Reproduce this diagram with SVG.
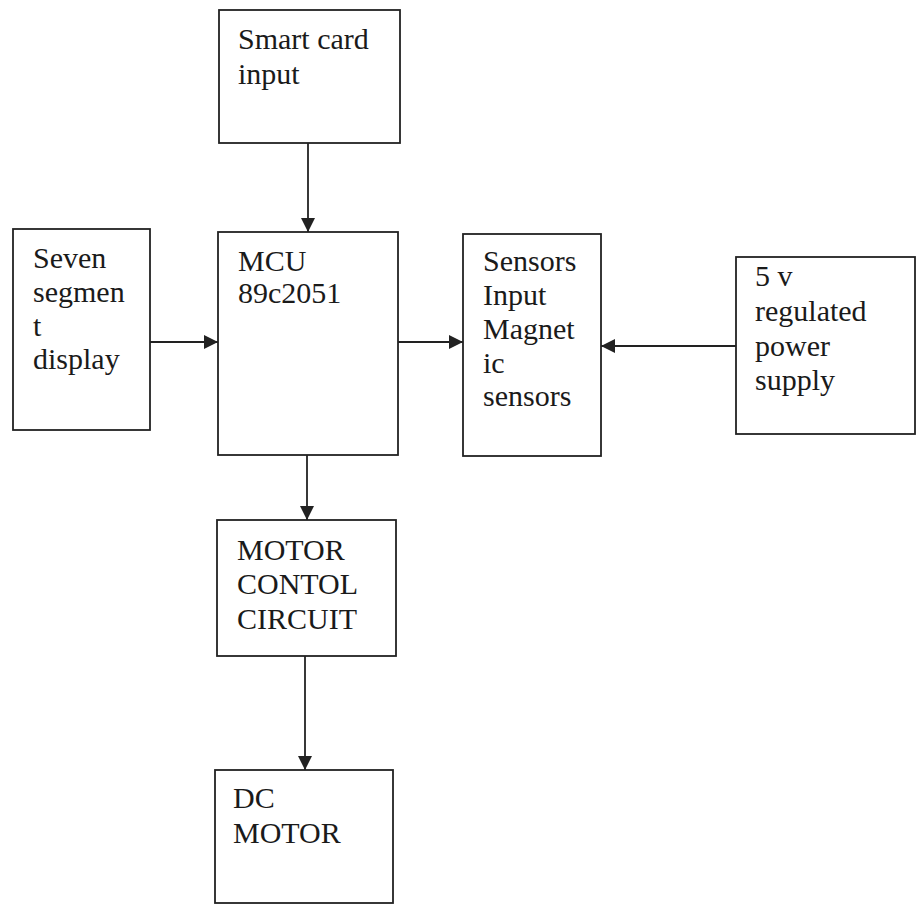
<svg xmlns="http://www.w3.org/2000/svg" width="923" height="904" viewBox="0 0 923 904">
<defs>
<style>
.box{fill:none;stroke:#222;stroke-width:1.8}
.lbl{font-family:"Liberation Serif","Times New Roman",serif;font-size:30px;fill:#1a1a1a}
.conn{stroke:#222;stroke-width:1.8;fill:none;marker-end:url(#ah)}
</style>
<marker id="ah" markerWidth="16" markerHeight="14" refX="14" refY="7" orient="auto" markerUnits="userSpaceOnUse">
<path d="M0,0 L14,7 L0,14 Z" fill="#222"/>
</marker>
</defs>
<rect width="923" height="904" fill="#fff"/>
<g id="smartcard">
<rect class="box" x="219" y="10" width="181" height="133"/>
<text class="lbl" x="238" y="49">Smart card</text>
<text class="lbl" x="238" y="84">input</text>
</g>
<g id="sevenseg">
<rect class="box" x="13" y="229" width="137" height="201"/>
<text class="lbl" x="33" y="268">Seven</text>
<text class="lbl" x="33" y="302">segmen</text>
<text class="lbl" x="33" y="336">t</text>
<text class="lbl" x="33" y="369">display</text>
</g>
<g id="mcu">
<rect class="box" x="218" y="232" width="180" height="223"/>
<text class="lbl" x="238" y="271">MCU</text>
<text class="lbl" x="238" y="303">89c2051</text>
</g>
<g id="sensors">
<rect class="box" x="463" y="234" width="138" height="222"/>
<text class="lbl" x="483" y="271">Sensors</text>
<text class="lbl" x="483" y="305">Input</text>
<text class="lbl" x="483" y="339">Magnet</text>
<text class="lbl" x="483" y="373">ic</text>
<text class="lbl" x="483" y="406">sensors</text>
</g>
<g id="power">
<rect class="box" x="736" y="257" width="179" height="177"/>
<text class="lbl" x="755" y="286">5 v</text>
<text class="lbl" x="755" y="321">regulated</text>
<text class="lbl" x="755" y="356">power</text>
<text class="lbl" x="755" y="390">supply</text>
</g>
<g id="motorctl">
<rect class="box" x="217" y="520" width="179" height="136"/>
<text class="lbl" x="237" y="560">MOTOR</text>
<text class="lbl" x="237" y="594">CONTOL</text>
<text class="lbl" x="237" y="629">CIRCUIT</text>
</g>
<g id="dcmotor">
<rect class="box" x="215" y="770" width="178" height="133"/>
<text class="lbl" x="233" y="808">DC</text>
<text class="lbl" x="233" y="843">MOTOR</text>
</g>
<g id="connectors">
<line class="conn" x1="308" y1="143" x2="308" y2="232"/>
<line class="conn" x1="150" y1="342" x2="218" y2="342"/>
<line class="conn" x1="398" y1="342" x2="463" y2="342"/>
<line class="conn" x1="736" y1="346" x2="601" y2="346"/>
<line class="conn" x1="307" y1="455" x2="307" y2="520"/>
<line class="conn" x1="305" y1="656" x2="305" y2="770"/>
</g>
</svg>
